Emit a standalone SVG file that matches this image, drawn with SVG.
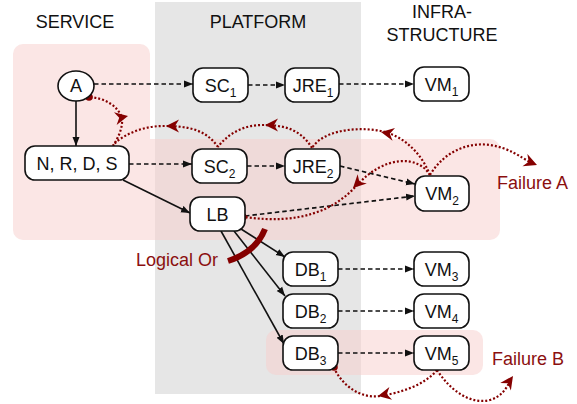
<svg xmlns="http://www.w3.org/2000/svg" xmlns:xlink="http://www.w3.org/1999/xlink" width="577" height="404" viewBox="0 0 577 404">
<style>
text{font-family:"Liberation Sans",Arial,sans-serif;}
.title{font-size:18px;fill:#111;text-anchor:middle;}
.lbl{font-size:18px;fill:#111;text-anchor:middle;}
.sub{font-size:12px;}
.node rect,.node ellipse{fill:#fff;stroke:#111;stroke-width:1.6;}
.dash{fill:none;stroke:#111;stroke-width:1.7;stroke-dasharray:4.5 3;}
.solid{fill:none;stroke:#111;stroke-width:1.6;}
.fail{fill:none;stroke:#850000;stroke-width:2.2;stroke-dasharray:2 2;}
.red{fill:#850000;}
.redtxt{font-size:18px;fill:#8b0f0f;}
</style>
<defs>
<marker id="ah" markerWidth="10" markerHeight="8" refX="9" refY="4" orient="auto" markerUnits="userSpaceOnUse"><path d="M0,0.5 L9,4 L0,7.5 z" fill="#111"/></marker>
<path id="rh" d="M0,0 L-13,-6.5 L-9,0 L-13,6.5 z" fill="#850000"/>
</defs>
<g id="lanes">
<rect x="155" y="2" width="206" height="392" fill="#e6e6e6"/>
<g opacity="0.5" fill="#f8cecc">
<path d="M23,44 H140 A10,10 0 0 1 150,54 V139 H490 A10,10 0 0 1 500,149 V230 A10,10 0 0 1 490,240 H23 A10,10 0 0 1 13,230 V54 A10,10 0 0 1 23,44 Z"/>
</g>
<rect x="266" y="330" width="217" height="45" rx="10" fill="#f8cecc" opacity="0.5"/>
</g>
<g id="titles">
<text class="title" x="75" y="28">SERVICE</text>
<text class="title" x="258" y="28">PLATFORM</text>
<text class="title" x="442" y="18">INFRA-</text>
<text class="title" x="442" y="41">STRUCTURE</text>
</g>
<g id="connectors">
<path class="solid" d="M76,100 V146" marker-end="url(#ah)"/>
<path class="solid" d="M123,180 L190,213" marker-end="url(#ah)"/>
<path class="solid" d="M241,229 L285,257" marker-end="url(#ah)"/>
<path class="solid" d="M234,231 L285,296" marker-end="url(#ah)"/>
<path class="solid" d="M221,231 L284,344" marker-end="url(#ah)"/>
<path class="dash" d="M94,84 H193" marker-end="url(#ah)"/>
<path class="dash" d="M248,85 H285" marker-end="url(#ah)"/>
<path class="dash" d="M339,84 H414" marker-end="url(#ah)"/>
<path class="dash" d="M129,164 H192" marker-end="url(#ah)"/>
<path class="dash" d="M247,166 H285" marker-end="url(#ah)"/>
<path class="dash" d="M340,166 L415,184" marker-end="url(#ah)"/>
<path class="dash" d="M245,216 L415,196" marker-end="url(#ah)"/>
<path class="dash" d="M338,269 H414" marker-end="url(#ah)"/>
<path class="dash" d="M338,311 H414" marker-end="url(#ah)"/>
<path class="dash" d="M338,353 H414" marker-end="url(#ah)"/>
<path id="logical-or" d="M265,229 Q256,252 228,261" fill="none" stroke="#850000" stroke-width="6"/>
<g id="failure-paths">
<path class="fail" d="M430,175 C445,150 470,142 490,145 C510,148 520,157 530,162"/>
<path class="fail" d="M430,175 C420,150 400,133 375,130 C350,127 322,132 312,148"/>
<path class="fail" d="M312,148 C300,128 282,125 262,125 C245,125 228,133 218,147"/>
<path class="fail" d="M218,147 C205,128 185,126 163,126 C145,126 125,133 113,145"/>
<path class="fail" d="M113,146 C118,138 123,128 122,118 C118,106 105,98 89,97"/>
<path class="fail" d="M430,175 C418,155 385,155 357,185 C335,210 300,225 245,217"/>
<path class="fail" d="M437,370 C425,385 400,393 380,396 C360,399 342,385 334,368"/>
<path class="fail" d="M437,370 C450,390 470,405 490,400 C500,397 506,390 510,381"/>
<use xlink:href="#rh" href="#rh" transform="translate(537,165) rotate(22)"/>
<use xlink:href="#rh" href="#rh" transform="translate(381,132) rotate(191)"/>
<use xlink:href="#rh" href="#rh" transform="translate(265,125) rotate(180)"/>
<use xlink:href="#rh" href="#rh" transform="translate(166,126) rotate(180)"/>
<use xlink:href="#rh" href="#rh" transform="translate(128,116) rotate(-12)"/>
<use xlink:href="#rh" href="#rh" transform="translate(353,188) rotate(135)"/>
<use xlink:href="#rh" href="#rh" transform="translate(378,396) rotate(168)"/>
<use xlink:href="#rh" href="#rh" transform="translate(513,376) rotate(-55)"/>
<circle class="red" cx="89" cy="97" r="3.8"/>
<circle class="red" cx="243" cy="217" r="3.8"/>
<circle class="red" cx="334" cy="367" r="3.8"/>
</g>
</g>
<g id="node-A" class="node"><ellipse cx="76" cy="86" rx="18" ry="15"/><text class="lbl" x="76" y="92">A</text></g>
<g id="node-SC1" class="node"><rect x="193" y="68" width="55" height="34" rx="10"/><text class="lbl" x="220.5" y="91.5">SC<tspan class="sub" dy="5">1</tspan></text></g>
<g id="node-JRE1" class="node"><rect x="285" y="68" width="54" height="34" rx="10"/><text class="lbl" x="313" y="91.5">JRE<tspan class="sub" dy="5">1</tspan></text></g>
<g id="node-VM1" class="node"><rect x="414" y="67" width="55" height="34" rx="10"/><text class="lbl" x="441.5" y="90.5">VM<tspan class="sub" dy="5">1</tspan></text></g>
<g id="node-NRDS" class="node"><rect x="25" y="146" width="104" height="34" rx="10"/><text class="lbl" x="77" y="169.5">N, R, D, S</text></g>
<g id="node-SC2" class="node"><rect x="192" y="149" width="55" height="34" rx="10"/><text class="lbl" x="219.5" y="172.5">SC<tspan class="sub" dy="5">2</tspan></text></g>
<g id="node-JRE2" class="node"><rect x="285" y="149" width="55" height="34" rx="10"/><text class="lbl" x="313" y="172.5">JRE<tspan class="sub" dy="5">2</tspan></text></g>
<g id="node-VM2" class="node"><rect x="415" y="176" width="54" height="35" rx="10"/><text class="lbl" x="442" y="199.5">VM<tspan class="sub" dy="5">2</tspan></text></g>
<g id="node-LB" class="node"><rect x="190" y="197" width="55" height="34" rx="10"/><text class="lbl" x="217.5" y="220.5">LB</text></g>
<g id="node-DB1" class="node"><rect x="283" y="252" width="55" height="34" rx="10"/><text class="lbl" x="310.5" y="275.5">DB<tspan class="sub" dy="5">1</tspan></text></g>
<g id="node-DB2" class="node"><rect x="283" y="294" width="55" height="34" rx="10"/><text class="lbl" x="310.5" y="317.5">DB<tspan class="sub" dy="5">2</tspan></text></g>
<g id="node-DB3" class="node"><rect x="283" y="336" width="55" height="34" rx="10"/><text class="lbl" x="310.5" y="359.5">DB<tspan class="sub" dy="5">3</tspan></text></g>
<g id="node-VM3" class="node"><rect x="414" y="252" width="55" height="34" rx="10"/><text class="lbl" x="441.5" y="275.5">VM<tspan class="sub" dy="5">3</tspan></text></g>
<g id="node-VM4" class="node"><rect x="414" y="294" width="55" height="34" rx="10"/><text class="lbl" x="441.5" y="317.5">VM<tspan class="sub" dy="5">4</tspan></text></g>
<g id="node-VM5" class="node"><rect x="414" y="336" width="55" height="34" rx="10"/><text class="lbl" x="441.5" y="359.5">VM<tspan class="sub" dy="5">5</tspan></text></g>
<g id="labels">
<text class="redtxt" x="218" y="266" text-anchor="end">Logical Or</text>
<text class="redtxt" x="497" y="189">Failure A</text>
<text class="redtxt" x="492" y="365">Failure B</text>
</g>
</svg>
